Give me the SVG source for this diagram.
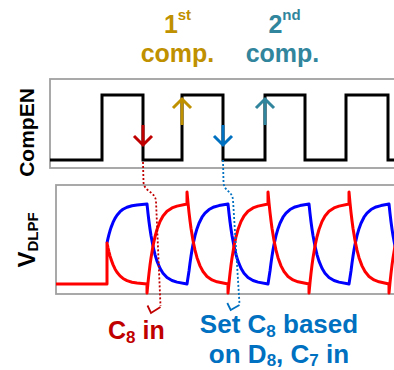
<svg xmlns="http://www.w3.org/2000/svg" width="394" height="370" viewBox="0 0 394 370">
<style>
text{font-family:"Liberation Sans",Arial,sans-serif;font-weight:bold}
.box{fill:none;stroke:#a0a0a0;stroke-width:1.8}
.wave{fill:none;stroke:#000;stroke-width:3;stroke-linejoin:miter}
.arr{fill:none;stroke-width:3;stroke-linejoin:miter;stroke-linecap:butt}
.sig{fill:none;stroke-width:3;stroke-linejoin:round}
.dot{fill:none;stroke-width:1.8;stroke-dasharray:2 2}
.head{fill:none;stroke-width:1.8;stroke-linejoin:miter}
.gold{fill:#BF9000}.teal{fill:#31859C}.dred{fill:#C00000}.dblue{fill:#0070C0}
</style>
<rect width="394" height="370" fill="#fff"/>

<g id="label-1st">
<text x="177.5" y="33" font-size="25" text-anchor="middle" class="gold">1<tspan font-size="15" dy="-13">st</tspan></text>
<text x="177.5" y="62" font-size="25" text-anchor="middle" class="gold">comp.</text>
</g>
<g id="label-2nd">
<text x="284.5" y="33" font-size="25" text-anchor="middle" class="teal">2<tspan font-size="15" dy="-13">nd</tspan></text>
<text x="282.5" y="62" font-size="25" text-anchor="middle" class="teal">comp.</text>
</g>

<g id="compen-panel">
<rect class="box" x="50" y="79" width="360" height="89"/>
<text transform="translate(34,132.5) rotate(-90)" font-size="21" text-anchor="middle" fill="#000">CompEN</text>
<path class="wave" d="M50,160 H102 V95 H143 V160 H182 V95 H223 V160 H265 V95 H305 V160 H346 V95 H388 V160 H400"/>
<g id="arrow-red"><path class="arr" stroke="#C00000" d="M143,125 V145 M134,136 L143,145 L152,136"/></g>
<g id="arrow-gold"><path class="arr" stroke="#BF9000" d="M182,125 V99 M173,108 L182,99 L191,108"/></g>
<g id="arrow-blue"><path class="arr" stroke="#0070C0" d="M223,125 V145 M214,136 L223,145 L232,136"/></g>
<g id="arrow-teal"><path class="arr" stroke="#31859C" d="M265,125 V99 M256,108 L265,99 L274,108"/></g>
</g>

<g id="vdlpf-panel">
<rect class="box" x="56" y="185" width="360" height="109"/>
<text transform="translate(35,240) rotate(-90)" font-size="24" text-anchor="middle" fill="#000">V<tspan font-size="15" dy="3">DLPF</tspan></text>
<path class="sig" stroke="#0000FF" d="M107,243 l1,-4.58 1,-4.04 1,-3.57 1,-3.15 2,-5.23 2,-4.08 2,-3.17 3,-3.49 3,-2.40 4,-2.07 5,-1.49 5,-0.8 L147,204
 l1,9.40 1,8.30 1,7.32 1,6.46 2,10.73 2,8.36 2,6.51 3,7.17 3,4.93 4,4.26 5,3.06 5,1.63 L187,284 L189,271
 l1,-7.87 1,-6.95 1,-6.13 1,-5.41 2,-8.98 2,-7.00 2,-5.45 3,-6.00 3,-4.13 4,-3.56 5,-2.56 5,-1.37 L228,204
 l1,9.40 1,8.30 1,7.32 1,6.46 2,10.73 2,8.36 2,6.51 3,7.17 3,4.93 4,4.26 5,3.06 5,1.63 L268,284 L270,271
 l1,-7.87 1,-6.95 1,-6.13 1,-5.41 2,-8.98 2,-7.00 2,-5.45 3,-6.00 3,-4.13 4,-3.56 5,-2.56 5,-1.37 L309,204
 l1,9.40 1,8.30 1,7.32 1,6.46 2,10.73 2,8.36 2,6.51 3,7.17 3,4.93 4,4.26 5,3.06 5,1.63 L349,284 L351,271
 l1,-7.87 1,-6.95 1,-6.13 1,-5.41 2,-8.98 2,-7.00 2,-5.45 3,-6.00 3,-4.13 4,-3.56 5,-2.56 5,-1.37 L389,204
 l1,9.40 1,8.30 1,7.32 1,6.46 2,10.73 2,8.36 2,6.51 3,7.17 3,4.93 4,4.26 5,3.06 5,1.63"/>
<path class="sig" stroke="#FF0000" d="M56,284 H107 V243 l1,4.82 1,4.25 1,3.75 1,3.31 2,5.50 2,4.28 2,3.34 3,3.67 3,2.53 4,2.18 5,1.57 5,0.84 L147,284 V293
 l1,-10.46 1,-9.23 1,-8.14 1,-7.19 2,-11.93 2,-9.30 2,-7.24 3,-7.97 3,-5.48 4,-4.73 5,-3.40 5,-1.82 L187,204 V192
 l1,10.81 1,9.54 1,8.42 1,7.43 2,12.34 2,9.61 2,7.49 3,8.24 3,5.67 4,4.89 5,3.51 5,1.88 L228,284 V293
 l1,-10.46 1,-9.23 1,-8.14 1,-7.19 2,-11.93 2,-9.30 2,-7.24 3,-7.97 3,-5.48 4,-4.73 5,-3.40 5,-1.82 L268,204 V192
 l1,10.81 1,9.54 1,8.42 1,7.43 2,12.34 2,9.61 2,7.49 3,8.24 3,5.67 4,4.89 5,3.51 5,1.88 L309,284 V293
 l1,-10.46 1,-9.23 1,-8.14 1,-7.19 2,-11.93 2,-9.30 2,-7.24 3,-7.97 3,-5.48 4,-4.73 5,-3.40 5,-1.82 L349,204 V192
 l1,10.81 1,9.54 1,8.42 1,7.43 2,12.34 2,9.61 2,7.49 3,8.24 3,5.67 4,4.89 5,3.51 5,1.88 L389,284 V293
 l1,-10.46 1,-9.23 1,-8.14 1,-7.19 2,-11.93 2,-9.30 2,-7.24 3,-7.97 3,-5.48 4,-4.73 5,-3.40 5,-1.82"/>
</g>

<g id="connectors">
<path class="dot" stroke="#C00000" d="M143,162 L143.5,182 C144,192 155,191 156,201 L160.5,306"/>
<path class="head" stroke="#C00000" d="M160.5,307 L151,313 L147.5,305.5"/>
<path class="dot" stroke="#0070C0" d="M223,160 L223.5,182 C224,192 232,190 233,200 L239.5,304"/>
<path class="head" stroke="#0070C0" d="M239.5,305 L230.7,310 L227.3,303"/>
</g>

<g id="label-c8in">
<text x="108" y="339" font-size="25" class="dred">C<tspan font-size="17" dy="4">8</tspan><tspan dy="-4"> in</tspan></text>
</g>
<g id="label-set">
<text x="279" y="333" font-size="26" text-anchor="middle" class="dblue">Set C<tspan font-size="17" dy="4">8</tspan><tspan dy="-4"> based</tspan></text>
<text x="279" y="363" font-size="26" text-anchor="middle" class="dblue">on D<tspan font-size="17" dy="3">8</tspan><tspan dy="-3">, C</tspan><tspan font-size="17" dy="3">7</tspan><tspan dy="-3"> in</tspan></text>
</g>
</svg>
